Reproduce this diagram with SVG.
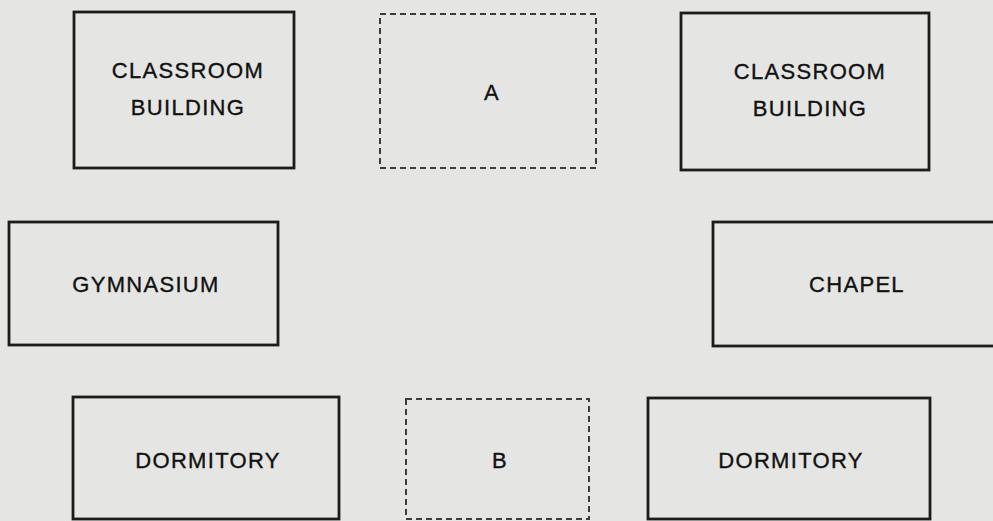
<svg xmlns="http://www.w3.org/2000/svg" width="993" height="521" viewBox="0 0 993 521">
<style>
.bg{fill:#e5e5e3}
.box{fill:none;stroke:#1c1c1c;stroke-width:2.8}
.dash{fill:none;stroke:#3c3c3c;stroke-width:2;stroke-dasharray:6 4}
.lbl{font-family:"Liberation Sans",Arial,sans-serif;font-size:22px;fill:#111;stroke:#111;stroke-width:0.35;text-anchor:middle;letter-spacing:1.3px}
</style>
<rect class="bg" x="0" y="0" width="993" height="521"/>
<g id="classroom-left">
<rect class="box" x="74" y="12" width="220" height="156"/>
<text class="lbl" x="188" y="78">CLASSROOM</text>
<text class="lbl" x="188" y="115">BUILDING</text>
</g>
<g id="site-a">
<rect class="dash" x="380" y="14" width="216" height="154"/>
<text class="lbl" x="492" y="100">A</text>
</g>
<g id="classroom-right">
<rect class="box" x="681" y="13" width="248" height="157"/>
<text class="lbl" x="810" y="79">CLASSROOM</text>
<text class="lbl" x="810" y="116">BUILDING</text>
</g>
<g id="gymnasium">
<rect class="box" x="9" y="222" width="269" height="123"/>
<text class="lbl" x="146" y="292">GYMNASIUM</text>
</g>
<g id="chapel">
<rect class="box" x="713" y="222" width="300" height="124"/>
<text class="lbl" x="857" y="292">CHAPEL</text>
</g>
<g id="dormitory-left">
<rect class="box" x="73" y="397" width="266" height="122"/>
<text class="lbl" x="208" y="468">DORMITORY</text>
</g>
<g id="site-b">
<rect class="dash" x="406" y="399" width="183" height="120"/>
<text class="lbl" x="500" y="468">B</text>
</g>
<g id="dormitory-right">
<rect class="box" x="648" y="398" width="282" height="121"/>
<text class="lbl" x="791" y="468">DORMITORY</text>
</g>
<g id="connectors"/>
</svg>
